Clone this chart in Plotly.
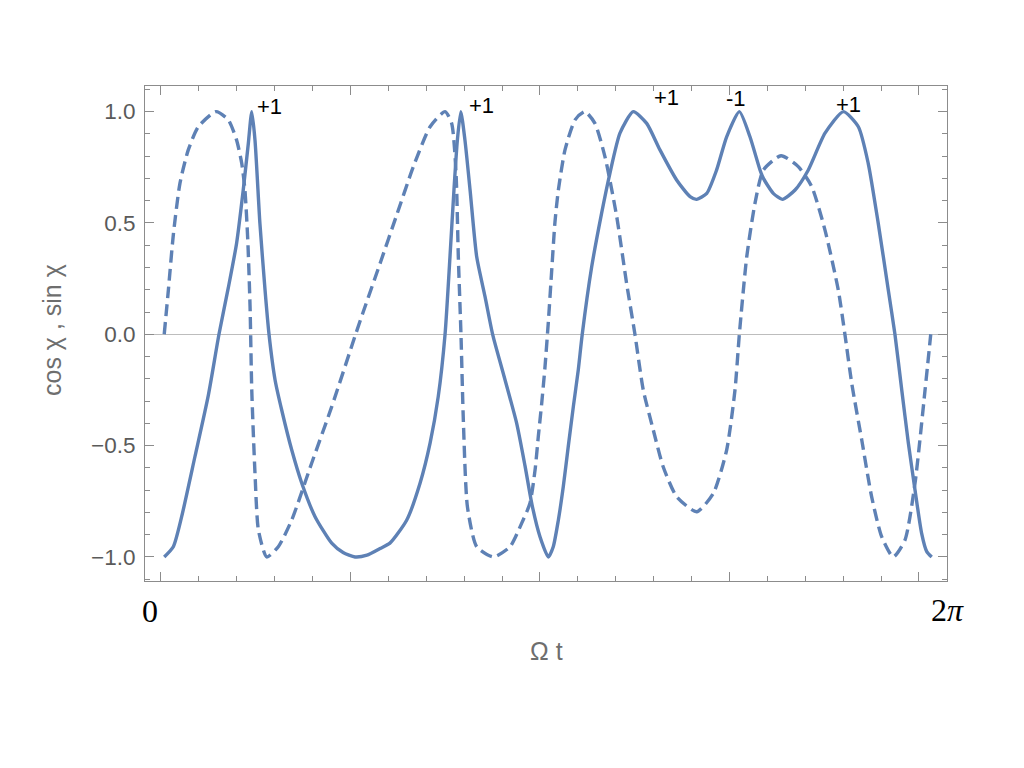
import plotly.graph_objects as go

# x in units of major frame ticks (5 major ticks spanning the 0..2π window)
solid_x = [0.017, 0.065, 0.109, 0.179, 0.250, 0.306, 0.355, 0.399, 0.434, 0.461, 0.479,
           0.496, 0.522, 0.549, 0.570, 0.602, 0.637, 0.690, 0.743, 0.813, 0.901, 0.961, 1.024,
           1.087, 1.156, 1.208, 1.297, 1.367, 1.420, 1.463, 1.499, 1.525, 1.546, 1.564, 1.582,
           1.604, 1.631, 1.666, 1.710, 1.750, 1.806, 1.877, 1.921, 1.958, 2.000, 2.044,
           2.070, 2.097, 2.123, 2.149, 2.176, 2.202, 2.223, 2.273, 2.325, 2.369, 2.422, 2.492, 2.563,
           2.633, 2.721, 2.792, 2.827, 2.880, 2.932, 2.985, 3.052, 3.108, 3.161, 3.179,
           3.231, 3.279, 3.346, 3.416, 3.504, 3.601, 3.680, 3.732, 3.785, 3.838, 3.873,
           3.909, 3.944, 3.979, 4.014, 4.041, 4.067]
solid_y = [-1.0, -0.954, -0.819, -0.550, -0.273, 0.0, 0.208, 0.409, 0.648, 0.858, 1.0,
           0.872, 0.498, 0.199, 0.0, -0.205, -0.340, -0.520, -0.669, -0.819, -0.938, -0.980, -1.0,
           -0.992, -0.962, -0.938, -0.834, -0.669, -0.489, -0.280, 0.0, 0.348, 0.648, 0.872, 1.0,
           0.872, 0.648, 0.348, 0.169, 0.0, -0.175, -0.400, -0.591, -0.766, -0.909, -1.0,
           -0.954, -0.834, -0.684, -0.505, -0.325, -0.160, 0.0, 0.304, 0.543, 0.723, 0.903, 1.0, 0.947,
           0.828, 0.693, 0.618, 0.606, 0.633, 0.738, 0.887, 1.0, 0.887, 0.738, 0.700,
           0.633, 0.606, 0.648, 0.738, 0.903, 1.0, 0.932, 0.768, 0.498, 0.199, 0.0,
           -0.250, -0.489, -0.699, -0.894, -0.976, -1.0]

dash_x = [0.017, 0.039, 0.065, 0.100, 0.144, 0.197, 0.290, 0.355, 0.399, 0.426, 0.443,
          0.458, 0.470, 0.479, 0.496, 0.514, 0.558, 0.619, 0.690, 0.795, 0.901, 1.024,
          1.067, 1.156, 1.244, 1.331, 1.420, 1.499, 1.534, 1.557, 1.569, 1.583, 1.596,
          1.617, 1.666, 1.754, 1.842, 1.903, 1.947, 1.974, 1.991, 2.009, 2.026, 2.044,
          2.062, 2.079, 2.097, 2.132, 2.185,
          2.237, 2.290, 2.343, 2.405, 2.457, 2.501, 2.545, 2.598, 2.650, 2.721, 2.827,
          2.915, 2.985, 3.029, 3.052, 3.091, 3.135, 3.179, 3.272, 3.363, 3.434, 3.504,
          3.574, 3.609, 3.645, 3.698, 3.750, 3.803, 3.864, 3.926, 3.979, 4.032, 4.062]
dash_y = [0.0, 0.199, 0.446, 0.678, 0.828, 0.932, 1.0, 0.963, 0.872, 0.768, 0.648,
          0.423, 0.124, -0.250, -0.624, -0.879, -1.0, -0.954, -0.834, -0.579, -0.325, -0.008,
          0.100, 0.318, 0.536, 0.751, 0.932, 1.0, 0.947, 0.723, 0.348, 0.0, -0.400,
          -0.774, -0.954, -1.0, -0.954, -0.849, -0.759, -0.609, -0.460, -0.310, -0.151, 0.055,
          0.289, 0.504, 0.648, 0.828, 0.963,
          1.0, 0.947, 0.797, 0.528, 0.229, 0.0, -0.250, -0.430, -0.595, -0.729, -0.797,
          -0.714, -0.520, -0.250, 0.0, 0.348, 0.590, 0.738, 0.802, 0.753, 0.663, 0.468,
          0.199, 0.0, -0.220, -0.475, -0.729, -0.909, -1.0, -0.924, -0.669, -0.250, 0.0]

sign_labels = ["+1", "+1", "+1", "-1", "+1"]
sign_x = [0.575, 1.691, 2.668, 3.034, 3.628]
sign_y = [1.021, 1.027, 1.063, 1.057, 1.032]

y_ticks = [-1.0, -0.5, 0.0, 0.5, 1.0]

color = "#5E81B5"
fig = go.Figure()
fig.add_trace(go.Scatter(x=solid_x, y=solid_y, mode="lines",
                         line=dict(color=color, width=3.4, shape="spline", smoothing=0.6),
                         showlegend=False, hoverinfo="skip"))
fig.add_trace(go.Scatter(x=dash_x, y=dash_y, mode="lines",
                         line=dict(color=color, width=3.4, dash="12px,6px", shape="spline", smoothing=0.6),
                         showlegend=False, hoverinfo="skip"))

for t, xx, yy in zip(sign_labels, sign_x, sign_y):
    fig.add_annotation(x=xx, y=yy, text=t, showarrow=False, xanchor="center", yanchor="middle",
                       font=dict(family="Liberation Sans", size=22, color="black"))

frame = "#8c8c8c"
fig.update_xaxes(range=[-0.0844, 4.1478], showgrid=False, zeroline=False,
                 showline=True, linecolor=frame, linewidth=1, mirror="allticks",
                 ticks="inside", ticklen=9, tickcolor=frame, tick0=0, dtick=1,
                 showticklabels=False,
                 minor=dict(ticks="inside", ticklen=5, tickcolor=frame, dtick=0.2, showgrid=False))
fig.update_yaxes(range=[-1.108, 1.115], showgrid=False, zeroline=True,
                 zerolinecolor="#bdbdbd", zerolinewidth=1,
                 showline=True, linecolor=frame, linewidth=1, mirror="allticks",
                 ticks="inside", ticklen=9, tickcolor=frame,
                 tickvals=y_ticks, tickformat=".1f", ticklabelstandoff=4,
                 tickfont=dict(family="Liberation Sans", size=22.5, color="#5a5a5a"),
                 minor=dict(ticks="inside", ticklen=5, tickcolor=frame, dtick=0.1, showgrid=False))

fig.add_annotation(xref="paper", yref="paper", x=-0.116, y=0.507, text="cos χ , sin χ",
                   textangle=-90, showarrow=False, xanchor="center", yanchor="middle",
                   font=dict(family="Liberation Sans", size=25, color="#6e6e6e"))
fig.add_annotation(xref="paper", yref="paper", x=0.5, y=-0.1414, text="Ω t",
                   showarrow=False, xanchor="center", yanchor="middle",
                   font=dict(family="Liberation Sans", size=25, color="#6e6e6e"))
fig.add_annotation(xref="paper", yref="paper", x=0.0062, y=-0.0616, text="0",
                   showarrow=False, xanchor="center", yanchor="middle",
                   font=dict(family="Liberation Serif", size=32, color="black"))
fig.add_annotation(xref="paper", yref="paper", x=1.0006, y=-0.0586, text="2<i>π</i>",
                   showarrow=False, xanchor="center", yanchor="middle",
                   font=dict(family="Liberation Serif", size=32, color="black"))

fig.update_layout(width=1024, height=768, plot_bgcolor="white", paper_bgcolor="white",
                  margin=dict(l=137, r=85, t=78, b=195), showlegend=False)
fig.write_html("out.html")
